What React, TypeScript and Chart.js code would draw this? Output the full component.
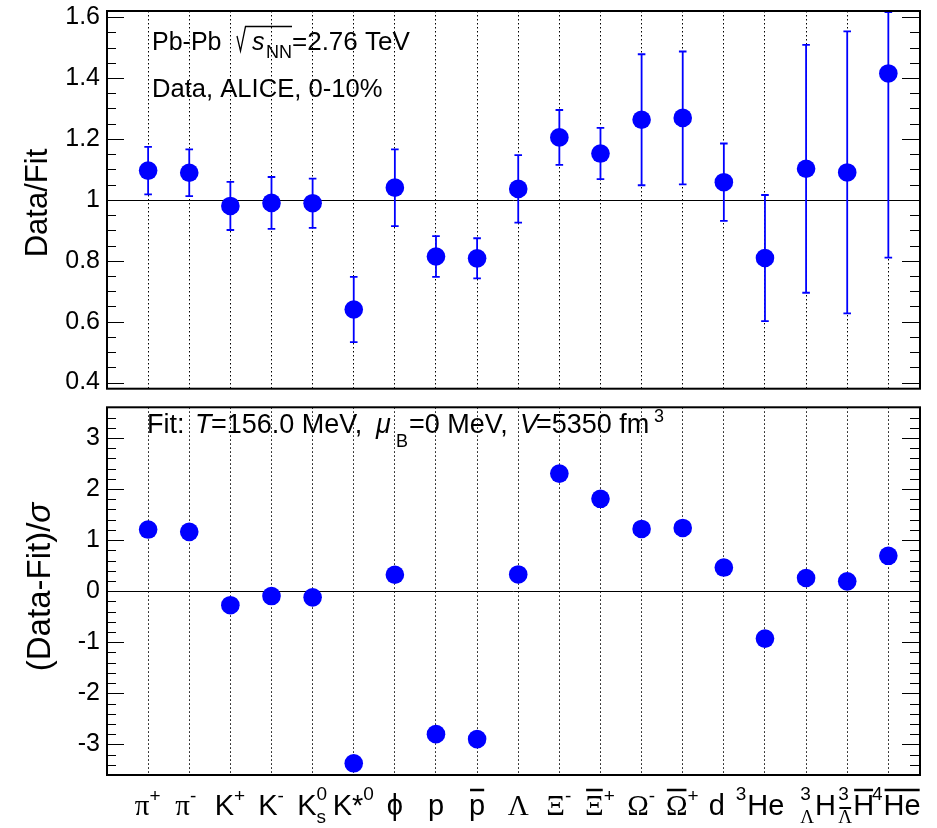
import { useEffect, useRef } from 'react';
import { Chart, registerables } from 'chart.js';

Chart.register(...registerables);

type LabelPart = { base?: string; sup?: string; sub?: string; bar?: boolean; subBar?: boolean };

// Particle species (x categories)
const particleLabels: LabelPart[][] = [
  [{ base: 'π' }, { sup: '+' }],
  [{ base: 'π' }, { sup: '-' }],
  [{ base: 'K' }, { sup: '+' }],
  [{ base: 'K' }, { sup: '-' }],
  [{ base: 'K' }, { sup: '0', sub: 's' }],
  [{ base: 'K*' }, { sup: '0' }],
  [{ base: 'ϕ' }],
  [{ base: 'p' }],
  [{ base: 'p', bar: true }],
  [{ base: 'Λ' }],
  [{ base: 'Ξ' }, { sup: '-' }],
  [{ base: 'Ξ', bar: true }, { sup: '+' }],
  [{ base: 'Ω' }, { sup: '-' }],
  [{ base: 'Ω', bar: true }, { sup: '+' }],
  [{ base: 'd' }],
  [{ sup: '3' }, { base: 'He' }],
  [{ sup: '3', sub: 'Λ' }, { base: 'H' }],
  [{ sup: '3', sub: 'Λ', subBar: true }, { base: 'H', bar: true }],
  [{ sup: '4' }, { base: 'He', bar: true }],
];

// Data / Fit ratio and its uncertainty
const dataFitRatio = [1.096, 1.089, 0.98, 0.99, 0.989, 0.64, 1.04, 0.814, 0.808, 1.036, 1.205, 1.152, 1.263, 1.269, 1.058, 0.809, 1.102, 1.09, 1.415];
const dataFitError = [0.078, 0.077, 0.079, 0.085, 0.081, 0.107, 0.126, 0.067, 0.066, 0.111, 0.09, 0.084, 0.215, 0.218, 0.127, 0.207, 0.407, 0.463, 0.605];

// (Data - Fit) / sigma
const deviation = [1.206, 1.161, -0.275, -0.096, -0.121, -3.371, 0.321, -2.8, -2.897, 0.327, 2.302, 1.808, 1.218, 1.238, 0.462, -0.929, 0.258, 0.192, 0.692];

// Axis ticks
const ratioTicks = [0.4, 0.6, 0.8, 1.0, 1.2, 1.4, 1.6];
const ratioMinorStep = 0.05;
const devTicks = [-3, -2, -1, 0, 1, 2, 3];
const devMinorStep = 0.2;

// horizontal label nudges (pixels), layout only
const labelNudge = [0, -3, 0, 0, 0, 0, 0, 0, 0, 0, 0, 0, 0, 0, -7, -5, 12, 9, 8];

const SANS = '"Liberation Sans", Arial, Helvetica, sans-serif';
const SERIF = '"Liberation Serif", "Times New Roman", serif';
const BLUE = '#0000ff';
const W = 937;
const TOP_H = 398;
const BOT_TOP = 398;
const BOT_H = 430;

const isGreek = (s: string) => /[\u0370-\u03CF]/.test(s);
const font = (size: number, italic = false, serif = false) =>
  `${italic ? 'italic ' : ''}${size}px ${serif ? SERIF : SANS}`;

function minorValues(min: number, max: number, step: number) {
  const out: number[] = [];
  const start = Math.ceil(min / step - 1e-9);
  const end = Math.floor(max / step + 1e-9);
  for (let k = start; k <= end; k++) out.push(+(k * step).toFixed(6));
  return out;
}

function drawFrame(chart: any, majors: number[], minorStep: number) {
  const { ctx, chartArea: a, scales } = chart;
  const y = scales.y;
  const minors = minorValues(y.min, y.max, minorStep);
  ctx.save();
  ctx.setLineDash([]);
  ctx.strokeStyle = '#000';
  ctx.lineWidth = 1.2;
  ctx.beginPath();
  for (const v of minors) {
    const isMajor = majors.some((m) => Math.abs(m - v) < 1e-6);
    const p = Math.round(y.getPixelForValue(v)) + 0.5;
    ctx.moveTo(a.left, p);
    ctx.lineTo(a.left + (isMajor ? 17 : 9), p);
    ctx.moveTo(a.right, p);
    ctx.lineTo(a.right - (isMajor ? 18 : 10), p);
  }
  ctx.stroke();
  ctx.lineWidth = 2;
  ctx.strokeRect(a.left, a.top, a.right - a.left, a.bottom - a.top);
  ctx.restore();
}

function drawRefLine(chart: any, value: number) {
  const { ctx, chartArea: a, scales } = chart;
  const p = Math.round(scales.y.getPixelForValue(value)) + 0.5;
  ctx.save();
  ctx.setLineDash([]);
  ctx.strokeStyle = '#000';
  ctx.lineWidth = 1;
  ctx.beginPath();
  ctx.moveTo(a.left, p);
  ctx.lineTo(a.right, p);
  ctx.stroke();
  ctx.restore();
}

function drawRotated(ctx: CanvasRenderingContext2D, runs: { t: string; f: string }[], x: number, cy: number) {
  ctx.save();
  ctx.translate(x, cy);
  ctx.rotate(-Math.PI / 2);
  ctx.fillStyle = '#000';
  ctx.textBaseline = 'alphabetic';
  ctx.textAlign = 'left';
  let total = 0;
  const ws = runs.map((r) => {
    ctx.font = r.f;
    const w = ctx.measureText(r.t).width;
    total += w;
    return w;
  });
  let cx = -total / 2;
  runs.forEach((r, i) => {
    ctx.font = r.f;
    ctx.fillText(r.t, cx, 0);
    cx += ws[i];
  });
  ctx.restore();
}

function drawParticleLabel(ctx: CanvasRenderingContext2D, parts: LabelPart[], cx: number, baseY: number) {
  const BASE = 29;
  const SCR = 19;
  const widths = parts.map((p) => {
    if (p.base) {
      ctx.font = font(BASE, false, isGreek(p.base));
      return ctx.measureText(p.base).width;
    }
    let w = 0;
    if (p.sup) {
      ctx.font = font(SCR, false, isGreek(p.sup));
      w = Math.max(w, ctx.measureText(p.sup).width);
    }
    if (p.sub) {
      ctx.font = font(SCR, false, isGreek(p.sub));
      w = Math.max(w, ctx.measureText(p.sub).width);
    }
    return w + 1;
  });
  const total = widths.reduce((s, w) => s + w, 0);
  let x = cx - total / 2;
  ctx.fillStyle = '#000';
  ctx.strokeStyle = '#000';
  ctx.textAlign = 'left';
  ctx.textBaseline = 'alphabetic';
  parts.forEach((p, i) => {
    if (p.base) {
      ctx.font = font(BASE, false, isGreek(p.base));
      ctx.fillText(p.base, x, baseY);
      if (p.bar) {
        ctx.lineWidth = 2.5;
        ctx.beginPath();
        ctx.moveTo(x + 1, baseY - 25);
        ctx.lineTo(x + widths[i] - 1, baseY - 25);
        ctx.stroke();
      }
    } else {
      if (p.sup) {
        ctx.font = font(SCR, false, isGreek(p.sup));
        const pm = p.sup === '+' || p.sup === '-';
        ctx.fillText(p.sup, x, baseY - (pm ? 13 : 15));
      }
      if (p.sub) {
        ctx.font = font(SCR, false, isGreek(p.sub));
        ctx.fillText(p.sub, x, baseY + 8);
        if (p.subBar) {
          const sw = ctx.measureText(p.sub).width;
          ctx.lineWidth = 2;
          ctx.beginPath();
          ctx.moveTo(x + 1, baseY - 7);
          ctx.lineTo(x + sw - 1, baseY - 7);
          ctx.stroke();
        }
      }
    }
    x += widths[i];
  });
}

function errorBarsPlugin(values: number[], errors: number[]) {
  return {
    id: 'errorBars',
    beforeDatasetsDraw(chart: any) {
      const { ctx, chartArea: a, scales } = chart;
      drawRefLine(chart, 1);
      ctx.save();
      ctx.setLineDash([]);
      ctx.strokeStyle = BLUE;
      ctx.lineWidth = 1.8;
      values.forEach((v, i) => {
        const px = scales.x.getPixelForValue(i + 1);
        let hi = scales.y.getPixelForValue(v + errors[i]);
        let lo = scales.y.getPixelForValue(v - errors[i]);
        hi = Math.max(hi, a.top + 1);
        lo = Math.min(lo, a.bottom - 1);
        ctx.beginPath();
        ctx.moveTo(px, hi);
        ctx.lineTo(px, lo);
        ctx.moveTo(px - 3.8, hi);
        ctx.lineTo(px + 3.8, hi);
        ctx.moveTo(px - 3.8, lo);
        ctx.lineTo(px + 3.8, lo);
        ctx.stroke();
      });
      ctx.restore();
    },
  };
}

const topDecor = {
  id: 'topDecor',
  afterDraw(chart: any) {
    const { ctx } = chart;
    drawFrame(chart, ratioTicks, ratioMinorStep);
    ctx.save();
    ctx.fillStyle = '#000';
    ctx.strokeStyle = '#000';
    ctx.textAlign = 'left';
    ctx.textBaseline = 'alphabetic';
    ctx.font = font(25);
    ctx.fillText('Pb-Pb', 152, 50);
    ctx.lineWidth = 1.3;
    ctx.beginPath();
    ctx.moveTo(237, 36);
    ctx.lineTo(240.5, 51);
    ctx.lineTo(245.5, 26.5);
    ctx.lineTo(292, 26.5);
    ctx.stroke();
    ctx.font = font(25, true);
    ctx.fillText('s', 252, 50);
    ctx.font = font(18);
    ctx.fillText('NN', 266, 58);
    ctx.font = font(26);
    ctx.fillText('=2.76 TeV', 292, 50);
    ctx.font = font(25.6);
    ctx.fillText('Data, ALICE, 0-10%', 152, 97);
    ctx.restore();
    drawRotated(ctx, [{ t: 'Data/Fit', f: font(31) }], 47, 203);
  },
};

const botDecor = {
  id: 'botDecor',
  beforeDatasetsDraw(chart: any) {
    drawRefLine(chart, 0);
  },
  afterDraw(chart: any) {
    const { ctx, scales } = chart;
    drawFrame(chart, devTicks, devMinorStep);
    const oy = BOT_TOP;
    ctx.save();
    ctx.fillStyle = '#000';
    ctx.textAlign = 'left';
    ctx.textBaseline = 'alphabetic';
    const base = 433 - oy;
    const runs = [
      { x: 147, t: 'Fit:', f: font(27), dy: 0 },
      { x: 195, t: 'T', f: font(27, true), dy: 0 },
      { x: 211, t: '=156.0 MeV,', f: font(27), dy: 0 },
      { x: 376, t: 'μ', f: font(27, true), dy: 0 },
      { x: 396, t: 'B', f: font(18), dy: 14 },
      { x: 409, t: '=0 MeV,', f: font(27), dy: 0 },
      { x: 520, t: 'V', f: font(27, true), dy: 0 },
      { x: 536, t: '=5350 fm', f: font(27), dy: 0 },
      { x: 654, t: '3', f: font(18), dy: -11 },
    ];
    for (const r of runs) {
      ctx.font = r.f;
      ctx.fillText(r.t, r.x, base + r.dy);
    }
    particleLabels.forEach((parts, i) => {
      drawParticleLabel(ctx, parts, scales.x.getPixelForValue(i + 1) + labelNudge[i], 815 - oy);
    });
    ctx.restore();
    drawRotated(ctx, [{ t: '(Data-Fit)/', f: font(33) }, { t: 'σ', f: font(33, true) }], 50, 587 - oy);
  },
};

function xScale(height: number) {
  return {
    type: 'linear' as const,
    min: 0,
    max: 19.77,
    afterBuildTicks: (s: any) => {
      s.ticks = particleLabels.map((_, i) => ({ value: i + 1 }));
    },
    afterFit: (s: any) => {
      s.height = height;
      s.paddingLeft = 0;
      s.paddingRight = 0;
      s.paddingTop = 0;
      s.paddingBottom = 0;
    },
    ticks: { display: false, autoSkip: false },
    grid: { display: true, drawTicks: false, color: '#000', lineWidth: 1 },
    border: { display: false, dash: [1.5, 2.5] },
  };
}

function yScale(min: number, max: number, ticks: number[], fmt: (v: number) => string) {
  return {
    type: 'linear' as const,
    min,
    max,
    afterBuildTicks: (s: any) => {
      s.ticks = ticks.map((v) => ({ value: v }));
    },
    afterFit: (s: any) => {
      s.width = 107;
      s.paddingLeft = 0;
      s.paddingRight = 0;
      s.paddingTop = 0;
      s.paddingBottom = 0;
    },
    ticks: {
      font: { family: SANS, size: 25 },
      color: '#000',
      padding: 7,
      autoSkip: false,
      callback: (v: any) => fmt(Number(v)),
    },
    grid: { display: false, drawTicks: false },
    border: { display: false },
  };
}

export default function App() {
  const topRef = useRef<HTMLCanvasElement>(null);
  const botRef = useRef<HTMLCanvasElement>(null);

  useEffect(() => {
    document.body.style.margin = '0';
    const top = new Chart(topRef.current as HTMLCanvasElement, {
      type: 'scatter',
      data: {
        datasets: [
          {
            data: dataFitRatio.map((v, i) => ({ x: i + 1, y: v })),
            backgroundColor: BLUE,
            borderWidth: 0,
            pointRadius: 9.3,
            pointHoverRadius: 9.3,
          },
        ],
      },
      options: {
        responsive: false,
        animation: false,
        events: [],
        layout: { padding: { left: 0, right: 17, top: 11, bottom: 2 } },
        plugins: { legend: { display: false }, tooltip: { enabled: false } },
        scales: {
          x: xScale(0),
          y: yScale(0.38, 1.62, ratioTicks, (v) => (Math.abs(v - 1) < 1e-9 ? '1' : v.toFixed(1))),
        },
      } as any,
      plugins: [errorBarsPlugin(dataFitRatio, dataFitError), topDecor],
    });

    const bot = new Chart(botRef.current as HTMLCanvasElement, {
      type: 'scatter',
      data: {
        datasets: [
          {
            data: deviation.map((v, i) => ({ x: i + 1, y: v })),
            backgroundColor: BLUE,
            borderWidth: 0,
            pointRadius: 9.3,
            pointHoverRadius: 9.3,
          },
        ],
      },
      options: {
        responsive: false,
        animation: false,
        events: [],
        layout: { padding: { left: 0, right: 17, top: 3, bottom: 0 } },
        plugins: { legend: { display: false }, tooltip: { enabled: false } },
        scales: {
          x: xScale(BOT_H - 377),
          y: yScale(-3.6, 3.6, devTicks, (v) => String(Math.round(v))),
        },
      } as any,
      plugins: [botDecor],
    });

    return () => {
      top.destroy();
      bot.destroy();
    };
  }, []);

  return (
    <div style={{ position: 'relative', width: W, height: 828, background: '#fff' }}>
      <canvas ref={topRef} width={W} height={TOP_H} style={{ position: 'absolute', left: 0, top: 0 }} />
      <canvas ref={botRef} width={W} height={BOT_H} style={{ position: 'absolute', left: 0, top: BOT_TOP }} />
    </div>
  );
}
